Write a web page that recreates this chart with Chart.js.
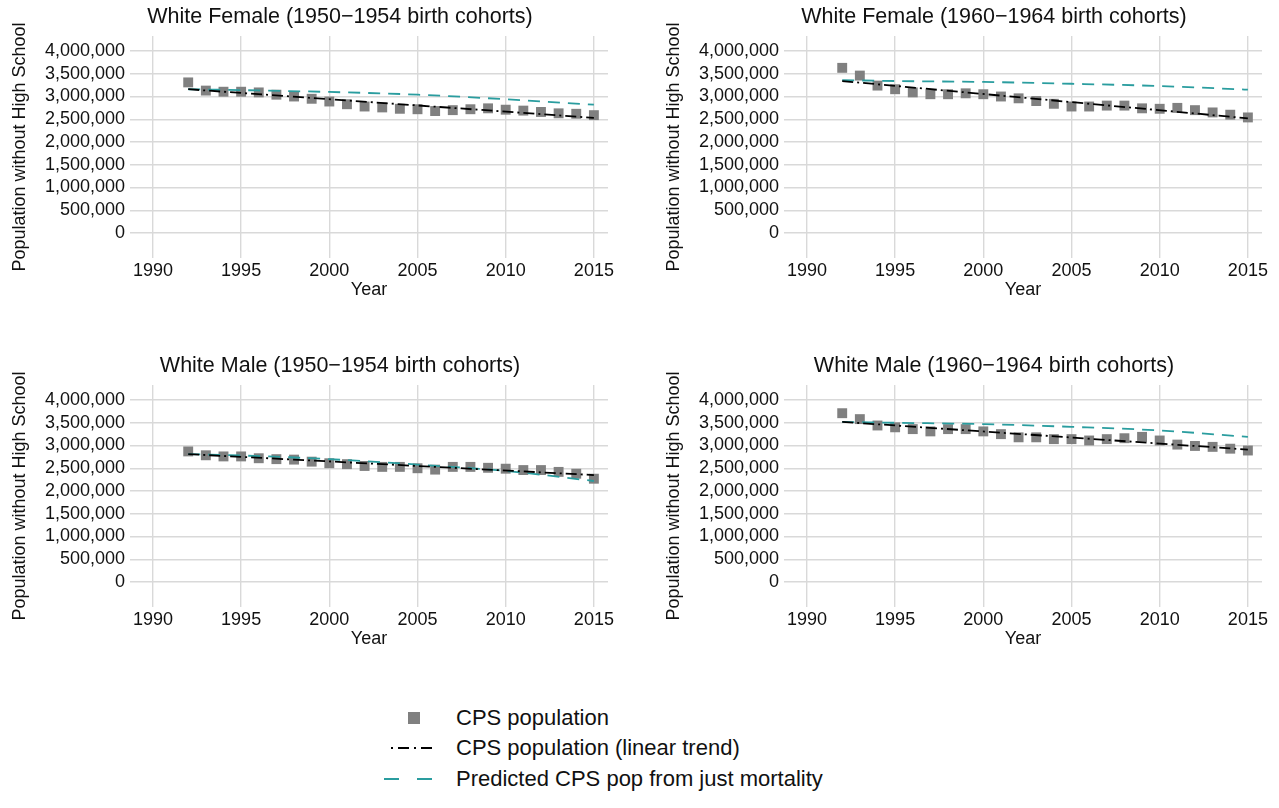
<!DOCTYPE html>
<html>
<head>
<meta charset="utf-8">
<script src="https://cdn.jsdelivr.net/npm/chart.js@4.4.1/dist/chart.umd.min.js"></script>
<style>
  html, body { margin: 0; padding: 0; background: #fff; overflow: hidden; }
  body { width: 1279px; height: 808px; position: relative; font-family: "Liberation Sans", Arial, sans-serif; }
  canvas.panel { position: absolute; }
  .legend { position: absolute; left: 380px; top: 700px; }
  .legend .row { position: absolute; left: 0; height: 30px; width: 500px; }
  .legend canvas { position: absolute; left: 0; top: 0; }
  .legend span { position: absolute; left: 76px; top: 0; line-height: 30px; font-size: 22px; color: #111; white-space: nowrap; }
</style>
</head>
<body>
<canvas id="p1" class="panel" width="640" height="308" style="left:0;top:0"></canvas>
<canvas id="p2" class="panel" width="625" height="308" style="left:654px;top:0"></canvas>
<canvas id="p3" class="panel" width="640" height="308" style="left:0;top:349px"></canvas>
<canvas id="p4" class="panel" width="625" height="308" style="left:654px;top:349px"></canvas>

<div class="legend">
  <div class="row" style="top:3px"><canvas id="lg1" width="70" height="30"></canvas><span>CPS population</span></div>
  <div class="row" style="top:33px"><canvas id="lg2" width="70" height="30"></canvas><span>CPS population (linear trend)</span></div>
  <div class="row" style="top:64px"><canvas id="lg3" width="70" height="30"></canvas><span>Predicted CPS pop from just mortality</span></div>
</div>

<script>
const years = [1992, 1993, 1994, 1995, 1996, 1997, 1998, 1999, 2000, 2001, 2002, 2003,
               2004, 2005, 2006, 2007, 2008, 2009, 2010, 2011, 2012, 2013, 2014, 2015];
const xTicks = [1990, 1995, 2000, 2005, 2010, 2015];
const yTicks = [0, 500000, 1000000, 1500000, 2000000, 2500000, 3000000, 3500000, 4000000];

const titles = [
  'White Female (1950\u22121954 birth cohorts)',
  'White Female (1960\u22121964 birth cohorts)',
  'White Male (1950\u22121954 birth cohorts)',
  'White Male (1960\u22121964 birth cohorts)'
];

// CPS population, one value per survey year
const cpsFemale50 = [3310000, 3130000, 3105000, 3105000, 3090000, 3040000, 3000000, 2950000,
                     2890000, 2830000, 2780000, 2760000, 2730000, 2720000, 2680000, 2700000,
                     2720000, 2740000, 2710000, 2690000, 2660000, 2630000, 2620000, 2590000];
const cpsFemale60 = [3630000, 3460000, 3240000, 3160000, 3090000, 3050000, 3050000, 3070000,
                     3050000, 3000000, 2960000, 2900000, 2840000, 2780000, 2780000, 2800000,
                     2800000, 2740000, 2730000, 2750000, 2700000, 2650000, 2600000, 2540000];
const cpsMale50 = [2870000, 2785000, 2760000, 2760000, 2720000, 2700000, 2690000, 2645000,
                   2610000, 2590000, 2550000, 2530000, 2530000, 2500000, 2470000, 2530000,
                   2530000, 2510000, 2490000, 2460000, 2460000, 2420000, 2380000, 2270000];
const cpsMale60 = [3710000, 3580000, 3440000, 3400000, 3360000, 3310000, 3360000, 3360000,
                   3310000, 3250000, 3180000, 3180000, 3140000, 3140000, 3110000, 3140000,
                   3160000, 3190000, 3110000, 3020000, 2990000, 2970000, 2930000, 2890000];

// linear trend fitted to the CPS series (end points)
const trendYears = [1992, 2015];
const trendFemale50 = [3160000, 2530000];
const trendFemale60 = [3340000, 2520000];
const trendMale50 = [2810000, 2350000];
const trendMale60 = [3520000, 2910000];

// population predicted from mortality alone
const predYears = [1992, 1995, 2000, 2005, 2010, 2015];
const predFemale50 = [3160000, 3140000, 3100000, 3040000, 2940000, 2820000];
const predFemale60 = [3360000, 3340000, 3320000, 3280000, 3230000, 3150000];
const predMale50 = [2810000, 2780000, 2700000, 2580000, 2440000, 2220000];
const predMale60 = [3520000, 3500000, 3470000, 3410000, 3330000, 3190000];

const GRAY = '#808080';
const TEAL = '#2a9d9f';
const GRID = '#d9d9d9';
const FONT = '"Liberation Sans", Arial, sans-serif';

// panel heading, placed relative to the plot area's left edge
const panelTitle = {
  id: 'panelTitle',
  afterDraw(chart, args, opts) {
    const { ctx, chartArea } = chart;
    ctx.save();
    ctx.font = '21.5px ' + FONT;
    ctx.fillStyle = '#111';
    ctx.textAlign = 'center';
    ctx.textBaseline = 'middle';
    ctx.fillText(opts.text, chartArea.left + 210, 17);
    ctx.restore();
  }
};

function pts(xs, ys) {
  return xs.map((x, i) => ({ x: x, y: ys[i] }));
}

function makePanel(id, title, cps, trend, pred, padRight) {
  const ctx = document.getElementById(id).getContext('2d');
  return new Chart(ctx, {
    type: 'line',
    plugins: [panelTitle],
    data: {
      datasets: [
        {
          label: 'CPS population (linear trend)',
          data: pts(trendYears, trend),
          borderColor: '#000',
          borderWidth: 1.8,
          borderDash: [11, 4, 2, 4],
          pointRadius: 0,
          order: 0
        },
        {
          label: 'Predicted CPS pop from just mortality',
          data: pts(predYears, pred),
          borderColor: TEAL,
          borderWidth: 1.8,
          borderDash: [12, 8],
          pointRadius: 0,
          cubicInterpolationMode: 'monotone',
          order: 1
        },
        {
          label: 'CPS population',
          data: pts(years, cps),
          showLine: false,
          pointStyle: 'rect',
          pointRadius: 7,
          pointBackgroundColor: GRAY,
          pointBorderWidth: 0,
          order: 2
        }
      ]
    },
    options: {
      responsive: false,
      animation: false,
      devicePixelRatio: 1,
      layout: { padding: { top: 36, right: padRight } },
      plugins: {
        legend: { display: false },
        tooltip: { enabled: false },
        title: { display: false },
        panelTitle: { text: title }
      },
      scales: {
        x: {
          type: 'linear',
          min: 1988.7,
          max: 2015.8,
          afterBuildTicks: s => { s.ticks = xTicks.map(v => ({ value: v })); },
          afterFit: s => { s.height = 50; },
          grid: { color: GRID, lineWidth: 1.4, drawTicks: false },
          border: { display: false },
          ticks: {
            padding: 2,
            color: '#111',
            font: { family: FONT, size: 18 },
            callback: v => String(v),
            maxRotation: 0
          },
          title: {
            display: true,
            text: 'Year',
            color: '#111',
            font: { family: FONT, size: 18 },
            padding: { top: 0, bottom: 7 }
          }
        },
        y: {
          min: -550000,
          max: 4330000,
          afterBuildTicks: s => { s.ticks = yTicks.map(v => ({ value: v })); },
          afterFit: s => { s.width = 130; },
          grid: { color: GRID, lineWidth: 1.4, drawTicks: false },
          border: { display: false },
          ticks: {
            padding: 5,
            color: '#111',
            font: { family: FONT, size: 18 },
            callback: v => v.toLocaleString('en-US')
          },
          title: {
            display: true,
            text: 'Population without High School',
            color: '#111',
            font: { family: FONT, size: 18 },
            padding: { top: 9, bottom: 0 }
          }
        }
      }
    }
  });
}

makePanel('p1', titles[0], cpsFemale50, trendFemale50, predFemale50, 32);
makePanel('p2', titles[1], cpsFemale60, trendFemale60, predFemale60, 17);
makePanel('p3', titles[2], cpsMale50, trendMale50, predMale50, 32);
makePanel('p4', titles[3], cpsMale60, trendMale60, predMale60, 17);

// legend swatches
(function () {
  const c1 = document.getElementById('lg1').getContext('2d');
  c1.fillStyle = GRAY;
  c1.fillRect(28, 9, 12, 12);

  const c2 = document.getElementById('lg2').getContext('2d');
  c2.strokeStyle = '#000';
  c2.lineWidth = 1.8;
  c2.setLineDash([2, 5, 11, 5]);
  c2.beginPath();
  c2.moveTo(11, 15);
  c2.lineTo(55, 15);
  c2.stroke();

  const c3 = document.getElementById('lg3').getContext('2d');
  c3.strokeStyle = TEAL;
  c3.lineWidth = 1.8;
  c3.setLineDash([15, 18]);
  c3.beginPath();
  c3.moveTo(4, 15);
  c3.lineTo(56, 15);
  c3.stroke();
})();
</script>
</body>
</html>
